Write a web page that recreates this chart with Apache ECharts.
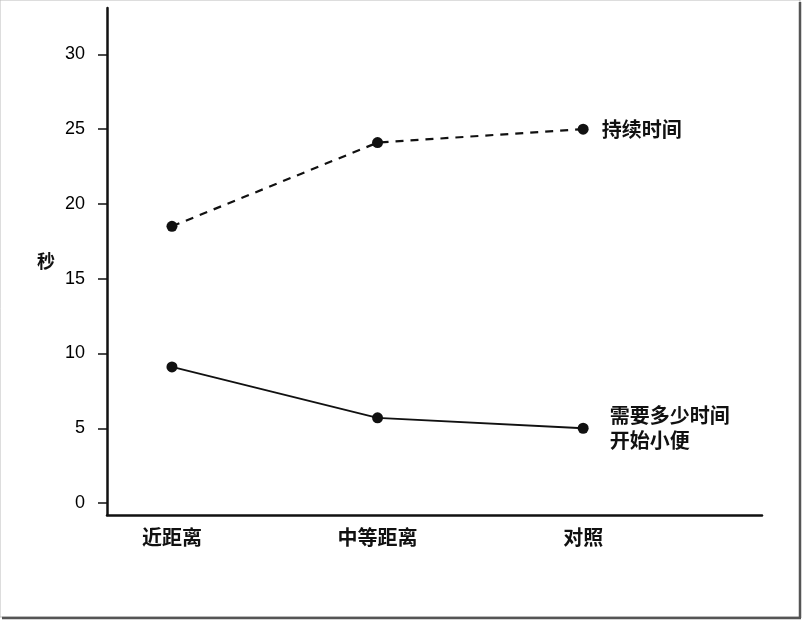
<!DOCTYPE html>
<html>
<head>
<meta charset="utf-8">
<script src="https://cdn.jsdelivr.net/npm/echarts@6/dist/echarts.min.js"></script>
<style>html,body{margin:0;padding:0;background:#fff}#c{width:804px;height:621px}</style>
</head>
<body>
<div id="c"></div>
<script>
var categories = ['近距离', '中等距离', '对照'];
var durationValues = [18.5, 24.1, 25.0];
var startValues = [9.1, 5.7, 5.0];
var yTicks = [0, 5, 10, 15, 20, 25, 30];
var durationName = '持续时间';
var startName = '需要多少时间\n开始小便';

var chart = echarts.init(document.getElementById('c'));
function pts(vals, name) {
  return vals.map(function (v, i) {
    var d = { value: [i, v] };
    if (i === vals.length - 1) {
      d.label = { show: true, formatter: name };
    }
    return d;
  });
}
var labelStyle = {
  position: 'right', color: '#111', fontSize: 20, fontWeight: 'bold',
  fontFamily: 'Noto Sans CJK SC', lineHeight: 25
};
chart.setOption({
  animation: false,
  backgroundColor: '#fff',
  grid: { left: 107, top: 8, right: 42, bottom: 106 },
  xAxis: {
    type: 'value', min: -0.316, max: 2.87,
    splitLine: { show: false },
    axisLine: { show: true, onZero: false, lineStyle: { color: '#111', width: 2.5 } },
    axisTick: { show: false },
    axisLabel: {
      customValues: [0, 1, 2],
      formatter: function (v) { return categories[Math.round(v)] || ''; },
      color: '#111', fontSize: 20, fontWeight: 'bold', fontFamily: 'Noto Sans CJK SC', margin: 12
    }
  },
  yAxis: {
    type: 'value', min: -0.8, max: 33.1,
    name: '秒', nameLocation: 'middle', nameRotate: 0, nameGap: 52,
    nameTextStyle: { color: '#111', fontSize: 18, fontWeight: 'bold', fontFamily: 'Noto Sans CJK SC' },
    splitLine: { show: false },
    axisLine: { show: true, onZero: false, lineStyle: { color: '#111', width: 2.5 } },
    axisTick: { show: true, customValues: yTicks, length: 9, lineStyle: { color: '#111', width: 1.5 } },
    axisLabel: {
      customValues: yTicks, color: '#000', fontSize: 18, fontFamily: 'Liberation Sans', margin: 22
    }
  },
  series: [
    {
      type: 'line', data: pts(durationValues, durationName),
      symbol: 'circle', symbolSize: 11, itemStyle: { color: '#111' },
      lineStyle: { color: '#111', width: 2.2, type: [8, 7] },
      label: Object.assign({}, labelStyle, { distance: 13 })
    },
    {
      type: 'line', data: pts(startValues, startName),
      symbol: 'circle', symbolSize: 11, itemStyle: { color: '#111' },
      lineStyle: { color: '#111', width: 1.8 },
      label: Object.assign({}, labelStyle, { distance: 21 })
    }
  ],
  graphic: [
    { type: 'rect', shape: { x: 0, y: 0, width: 800, height: 617 },
      style: { fill: 'none', stroke: '#bbb', lineWidth: 1 }, silent: true },
    { type: 'line', shape: { x1: 800, y1: 2, x2: 800, y2: 618 }, style: { stroke: '#555', lineWidth: 2.5 }, silent: true },
    { type: 'line', shape: { x1: 2, y1: 618, x2: 801, y2: 618 }, style: { stroke: '#555', lineWidth: 2.5 }, silent: true }
  ]
});
</script>
</body>
</html>
